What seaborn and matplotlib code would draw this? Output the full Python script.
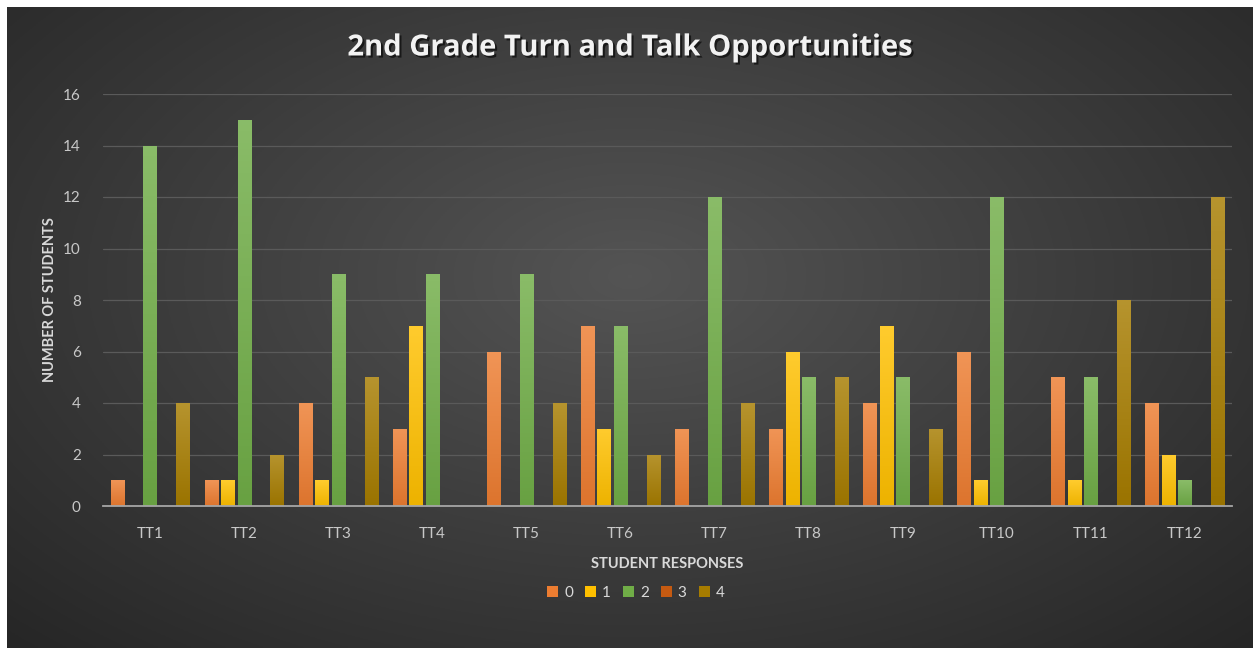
import numpy as np
import pandas as pd
import matplotlib
matplotlib.use("Agg")
import matplotlib.pyplot as plt
import matplotlib.patheffects as pe
from matplotlib.colors import to_rgb
import seaborn as sns

categories = ["TT1", "TT2", "TT3", "TT4", "TT5", "TT6", "TT7", "TT8", "TT9", "TT10", "TT11", "TT12"]
series_names = ["0", "1", "2", "3", "4"]
resp0 = [1, 1, 4, 3, 6, 7, 3, 3, 4, 6, 5, 4]
resp1 = [0, 1, 1, 7, 0, 3, 0, 6, 7, 1, 1, 2]
resp2 = [14, 15, 9, 9, 9, 7, 12, 5, 5, 12, 5, 1]
resp3 = [0, 0, 0, 0, 0, 0, 0, 0, 0, 0, 0, 0]
resp4 = [4, 2, 5, 0, 4, 2, 4, 5, 3, 0, 8, 12]
colors = ["#ED7D31", "#FFC000", "#70AD47", "#C55A11", "#A67C00"]

rows = []
for name, vals in zip(series_names, [resp0, resp1, resp2, resp3, resp4]):
    for c, v in zip(categories, vals):
        rows.append({"tt": c, "count": v, "resp": name})
df = pd.DataFrame(rows)

sns.set_theme(style="dark")
plt.rcParams["font.family"] = ["Lato", "DejaVu Sans"]

W, H = 1253, 648
fig = plt.figure(figsize=(W / 100, H / 100), dpi=100)
fig.patch.set_facecolor("white")

# background with radial gradient
bg = fig.add_axes([7 / W, 0, 1 - 7 / W, 1 - 7 / H])
bg.set_axis_off()
yy, xx = np.mgrid[0:1:300j, 0:1:600j]
r = np.sqrt(((xx - 0.5) / 0.75) ** 2 + ((yy - 0.42) / 0.85) ** 2)
r = np.clip(r, 0, 1)
c_in = np.array([0.33, 0.33, 0.33])
c_out = np.array([0.14, 0.14, 0.14])
img = c_in[None, None, :] * (1 - r[..., None]) + c_out[None, None, :] * r[..., None]
bg.imshow(img, extent=[0, 1, 0, 1], aspect="auto", origin="upper")
bg.set_xlim(0, 1)
bg.set_ylim(0, 1)

ax = fig.add_axes([103 / W, 1 - 506 / H, (1232 - 103) / W, (506 - 94) / H])
ax.patch.set_alpha(0)

sns.barplot(data=df, x="tt", y="count", hue="resp", palette=colors,
            width=0.875, gap=0.2, ax=ax, legend=True, saturation=1,
            order=categories, hue_order=series_names, edgecolor="none", linewidth=0)

# gradient overlay on bars
for p in list(ax.patches):
    h = p.get_height()
    if h <= 0:
        continue
    x0 = p.get_x()
    w = p.get_width()
    base = np.array(to_rgb(p.get_facecolor()))
    light = base + (1 - base) * 0.18
    dark = base * 0.93
    t = np.linspace(0, 1, 64)[:, None]
    grad = light[None, :] * (1 - t) + dark[None, :] * t
    grad = np.repeat(grad[:, None, :], 2, axis=1)
    im = ax.imshow(grad, extent=[x0, x0 + w, 0, h], aspect="auto", origin="upper", zorder=p.get_zorder() + 0.1)
    im.set_clip_path(p)

ax.set_xlim(-0.5, 11.5)
ax.set_ylim(0, 16)
ax.set_aspect("auto")
ax.set_yticks(np.arange(0, 17, 2))
ax.grid(axis="y", color="#5a5a5a", linewidth=0.9)
ax.grid(axis="x", visible=False)
ax.set_axisbelow(True)
for s in ["top", "right", "left"]:
    ax.spines[s].set_visible(False)
ax.spines["bottom"].set_visible(True)
ax.spines["bottom"].set_color("#a6a6a6")
ax.spines["bottom"].set_linewidth(1.3)
ax.tick_params(axis="both", colors="#c8c8c8", labelsize=11, length=0)
ax.tick_params(axis="x", pad=15)
ax.tick_params(axis="y", pad=16)

ax.set_xlabel("STUDENT RESPONSES", color="#d9d9d9", fontsize=10.5, fontweight="bold", labelpad=12)
ax.set_ylabel("NUMBER OF STUDENTS", color="#d9d9d9", fontsize=10.5, fontweight="bold", labelpad=4)

leg = ax.legend(loc="upper center", bbox_to_anchor=(0.472, -0.16), ncol=5, frameon=False,
                fontsize=11, handlelength=0.7, handleheight=0.7, handletextpad=0.4,
                columnspacing=0.8, labelcolor="#d9d9d9")

fig.text(630 / W, 1 - 48 / H, "2nd Grade Turn and Talk Opportunities", ha="center", va="center",
         color="#f2f2f2", fontsize=21, fontweight="bold", family=["Open Sans", "DejaVu Sans"],
         path_effects=[pe.withSimplePatchShadow(offset=(1.5, -1.5), shadow_rgbFace="black", alpha=0.6)])

fig.savefig("out.png", dpi=100, facecolor=fig.get_facecolor())
